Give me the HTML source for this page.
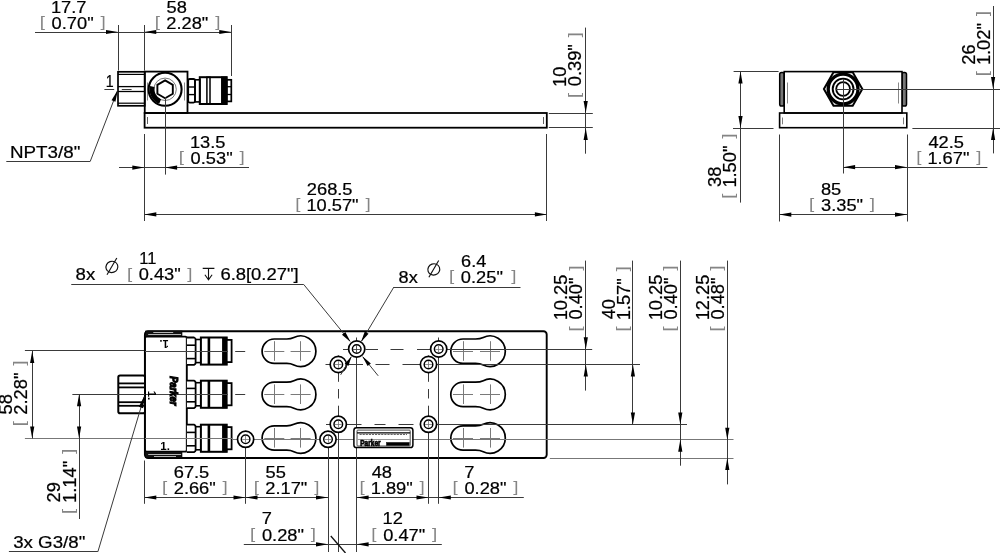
<!DOCTYPE html>
<html lang="en">
<head>
<meta charset="utf-8">
<title>Dimensional drawing</title>
<style>
html,body{margin:0;padding:0;background:#fff;}
body{width:1000px;height:553px;overflow:hidden;}
svg{display:block;font-family:"Liberation Sans",Arial,Helvetica,sans-serif;will-change:transform;}
</style>
</head>
<body>
<svg width="1000" height="553" viewBox="0 0 1000 553">
<rect x="0" y="0" width="1000" height="553" fill="#fff"/>
<rect x="144.60" y="113.00" width="402.20" height="14.70" stroke="#000" stroke-width="1.8" fill="none"/>
<line x1="147.50" y1="117.00" x2="147.50" y2="124.00" stroke="#333" stroke-width="0.8"/>
<line x1="543.50" y1="117.00" x2="543.50" y2="124.00" stroke="#333" stroke-width="0.8"/>
<rect x="144.75" y="71.60" width="42.75" height="41.40" stroke="#000" stroke-width="1.8" fill="none"/>
<line x1="147.50" y1="82.50" x2="147.50" y2="100.50" stroke="#555" stroke-width="0.7"/>
<line x1="184.50" y1="82.50" x2="184.50" y2="100.50" stroke="#555" stroke-width="0.7"/>
<rect x="118.00" y="71.80" width="26.75" height="34.00" stroke="#000" stroke-width="1.7" fill="none"/>
<line x1="118.00" y1="74.40" x2="144.70" y2="74.40" stroke="#000" stroke-width="1.2"/>
<line x1="118.00" y1="103.20" x2="144.70" y2="103.20" stroke="#000" stroke-width="1.2"/>
<line x1="118.00" y1="86.60" x2="144.70" y2="86.60" stroke="#000" stroke-width="1.3"/>
<line x1="118.00" y1="91.50" x2="144.70" y2="91.50" stroke="#000" stroke-width="1.3"/>
<line x1="121.80" y1="89.50" x2="131.60" y2="89.50" stroke="#3a3a3a" stroke-width="1.0"/>
<circle cx="165.10" cy="89.30" r="16.50" stroke="#000" stroke-width="2.1" fill="none"/>
<circle cx="165.10" cy="89.30" r="11.20" stroke="#555" stroke-width="0.8" fill="none"/>
<polygon points="165.10,80.40 172.81,84.85 172.81,93.75 165.10,98.20 157.39,93.75 157.39,84.85" fill="#fff" stroke="#000" stroke-width="1.9"/>
<path d="M160.16,101.54 A13.2,13.2 0 0 1 152.19,86.56" stroke="#000" stroke-width="4.8" fill="none" />
<rect x="188.20" y="79.00" width="6.80" height="23.60" stroke="#000" stroke-width="1.8" fill="none" rx="1.5" ry="1.5"/>
<line x1="188.40" y1="87.00" x2="195.00" y2="87.00" stroke="#000" stroke-width="1.4"/>
<line x1="188.40" y1="94.60" x2="195.00" y2="94.60" stroke="#000" stroke-width="1.4"/>
<rect x="195.00" y="79.80" width="4.80" height="22.10" stroke="#000" stroke-width="1.6" fill="none"/>
<rect x="199.80" y="77.20" width="26.80" height="26.80" stroke="#000" stroke-width="2.0" fill="none"/>
<rect x="206.90" y="77.20" width="3.10" height="26.80" stroke="#000" stroke-width="1.5" fill="none"/>
<rect x="221.80" y="77.20" width="4.80" height="26.80" stroke="#000" stroke-width="1.5" fill="#000"/>
<rect x="226.60" y="79.80" width="4.70" height="21.60" stroke="#000" stroke-width="1.7" fill="none"/>
<line x1="226.80" y1="86.70" x2="231.30" y2="86.70" stroke="#000" stroke-width="1.3"/>
<line x1="226.80" y1="94.50" x2="231.30" y2="94.50" stroke="#000" stroke-width="1.3"/>
<line x1="118.50" y1="25.00" x2="118.50" y2="70.50" stroke="#3a3a3a" stroke-width="1.0"/>
<line x1="144.50" y1="25.00" x2="144.50" y2="70.50" stroke="#3a3a3a" stroke-width="1.0"/>
<line x1="231.50" y1="25.00" x2="231.50" y2="76.00" stroke="#3a3a3a" stroke-width="1.0"/>
<line x1="35.00" y1="32.50" x2="231.25" y2="32.50" stroke="#3a3a3a" stroke-width="1.0"/>
<polygon points="118.00,32.00 106.00,34.10 106.00,29.90" fill="#000"/>
<polygon points="144.25,32.00 156.25,29.90 156.25,34.10" fill="#000"/>
<polygon points="231.25,32.00 219.25,34.10 219.25,29.90" fill="#000"/>
<text transform="translate(39.68,27.15) scale(1.3,1)" font-size="14.5" fill="#858585">[</text>
<text transform="translate(50.88,12.55) scale(1.0750,1)" font-size="17.0" fill="#000" stroke="#000" stroke-width="0.22">17.7</text>
<text transform="translate(51.61,28.75) scale(1.0750,1)" font-size="17.0" fill="#000" stroke="#000" stroke-width="0.22">0.70&quot;</text>
<text transform="translate(100.42,27.15) scale(1.3,1)" font-size="14.5" fill="#858585">]</text>
<text transform="translate(154.68,27.15) scale(1.3,1)" font-size="14.5" fill="#858585">[</text>
<text transform="translate(166.52,12.55) scale(1.0750,1)" font-size="17.0" fill="#000" stroke="#000" stroke-width="0.22">58</text>
<text transform="translate(166.34,28.75) scale(1.0750,1)" font-size="17.0" fill="#000" stroke="#000" stroke-width="0.22">2.28&quot;</text>
<text transform="translate(215.14,27.15) scale(1.3,1)" font-size="14.5" fill="#858585">]</text>
<text transform="translate(105.73,86.60) scale(0.8384,1)" font-size="17.0" fill="#000" stroke="#000" stroke-width="0.22">1</text>
<line x1="104.40" y1="89.50" x2="114.20" y2="89.50" stroke="#3a3a3a" stroke-width="1.0"/>
<line x1="6.30" y1="161.50" x2="90.30" y2="161.50" stroke="#3a3a3a" stroke-width="1.0"/>
<line x1="90.30" y1="161.20" x2="117.80" y2="89.90" stroke="#3a3a3a" stroke-width="1.0"/>
<polygon points="117.80,89.90 115.44,101.85 111.52,100.34" fill="#000"/>
<text transform="translate(9.99,157.70) scale(1.1067,1)" font-size="17.0" fill="#000" stroke="#000" stroke-width="0.22">NPT3/8&quot;</text>
<line x1="144.50" y1="134.00" x2="144.50" y2="221.00" stroke="#3a3a3a" stroke-width="1.0"/>
<line x1="546.50" y1="134.00" x2="546.50" y2="221.00" stroke="#3a3a3a" stroke-width="1.0"/>
<line x1="165.50" y1="97.00" x2="165.50" y2="174.60" stroke="#3a3a3a" stroke-width="1.0"/>
<line x1="119.00" y1="167.50" x2="249.00" y2="167.50" stroke="#3a3a3a" stroke-width="1.0"/>
<polygon points="144.30,167.60 132.30,169.70 132.30,165.50" fill="#000"/>
<polygon points="165.10,167.60 177.10,165.50 177.10,169.70" fill="#000"/>
<text transform="translate(178.68,161.90) scale(1.3,1)" font-size="14.5" fill="#858585">[</text>
<text transform="translate(189.88,147.90) scale(1.0750,1)" font-size="17.0" fill="#000" stroke="#000" stroke-width="0.22">13.5</text>
<text transform="translate(190.61,163.50) scale(1.0750,1)" font-size="17.0" fill="#000" stroke="#000" stroke-width="0.22">0.53&quot;</text>
<text transform="translate(239.42,161.90) scale(1.3,1)" font-size="14.5" fill="#858585">]</text>
<line x1="144.30" y1="214.50" x2="546.90" y2="214.50" stroke="#3a3a3a" stroke-width="1.0"/>
<polygon points="144.30,214.40 156.30,212.30 156.30,216.50" fill="#000"/>
<polygon points="546.90,214.40 534.90,216.50 534.90,212.30" fill="#000"/>
<text transform="translate(295.18,209.00) scale(1.3,1)" font-size="14.5" fill="#858585">[</text>
<text transform="translate(306.84,195.30) scale(1.0750,1)" font-size="17.0" fill="#000" stroke="#000" stroke-width="0.22">268.5</text>
<text transform="translate(306.38,210.60) scale(1.0750,1)" font-size="17.0" fill="#000" stroke="#000" stroke-width="0.22">10.57&quot;</text>
<text transform="translate(365.42,209.00) scale(1.3,1)" font-size="14.5" fill="#858585">]</text>
<line x1="548.80" y1="113.50" x2="592.80" y2="113.50" stroke="#3a3a3a" stroke-width="1.0"/>
<line x1="548.80" y1="127.50" x2="592.80" y2="127.50" stroke="#3a3a3a" stroke-width="1.0"/>
<line x1="585.50" y1="27.60" x2="585.50" y2="153.70" stroke="#3a3a3a" stroke-width="1.0"/>
<polygon points="585.70,113.00 583.60,101.00 587.80,101.00" fill="#000"/>
<polygon points="585.70,127.90 587.80,139.90 583.60,139.90" fill="#000"/>
<g transform="translate(581.40,96.80) rotate(-90) scale(1,1.075)">
<text transform="translate(-1.32,-1.60) scale(1.3,1)" font-size="14.5" fill="#858585">[</text>
<text transform="translate(9.88,-13.95) scale(1.0750,1)" font-size="17.0" fill="#000" stroke="#000" stroke-width="0.22">10</text>
<text transform="translate(10.61,0.00) scale(1.0750,1)" font-size="17.0" fill="#000" stroke="#000" stroke-width="0.22">0.39&quot;</text>
<text transform="translate(59.42,-1.60) scale(1.3,1)" font-size="14.5" fill="#858585">]</text>
</g>
<rect x="779.70" y="72.40" width="4.50" height="33.60" stroke="#000" stroke-width="1.5" fill="#777" rx="1.8" ry="1.8"/>
<rect x="902.00" y="72.40" width="4.50" height="33.60" stroke="#000" stroke-width="1.5" fill="#777" rx="1.8" ry="1.8"/>
<rect x="784.20" y="71.60" width="117.80" height="41.40" stroke="#000" stroke-width="1.6" fill="#fff"/>
<line x1="787.50" y1="82.50" x2="787.50" y2="103.50" stroke="#555" stroke-width="0.7"/>
<line x1="898.50" y1="82.50" x2="898.50" y2="103.50" stroke="#555" stroke-width="0.7"/>
<rect x="779.60" y="113.00" width="127.20" height="14.70" stroke="#000" stroke-width="1.6" fill="none"/>
<line x1="782.50" y1="117.50" x2="782.50" y2="124.30" stroke="#444" stroke-width="0.7"/>
<line x1="903.50" y1="117.50" x2="903.50" y2="124.30" stroke="#444" stroke-width="0.7"/>
<polygon points="862.30,89.00 852.70,105.63 833.50,105.63 823.90,89.00 833.50,72.37 852.70,72.37" fill="#fff" stroke="#000" stroke-width="2.0"/>
<circle cx="843.10" cy="89.00" r="14.90" stroke="#000" stroke-width="3.3" fill="none"/>
<circle cx="843.10" cy="89.00" r="10.40" stroke="#000" stroke-width="1.9" fill="none"/>
<circle cx="843.10" cy="89.00" r="6.90" stroke="#000" stroke-width="1.8" fill="none"/>
<line x1="836.00" y1="89.50" x2="1000.00" y2="89.50" stroke="#3a3a3a" stroke-width="1.0"/>
<line x1="843.50" y1="79.00" x2="843.50" y2="173.50" stroke="#3a3a3a" stroke-width="1.0"/>
<line x1="733.60" y1="71.50" x2="778.60" y2="71.50" stroke="#3a3a3a" stroke-width="1.0"/>
<line x1="733.00" y1="128.50" x2="773.50" y2="128.50" stroke="#3a3a3a" stroke-width="1.0"/>
<line x1="740.50" y1="71.40" x2="740.50" y2="202.60" stroke="#3a3a3a" stroke-width="1.0"/>
<polygon points="740.50,71.40 742.60,83.40 738.40,83.40" fill="#000"/>
<polygon points="740.50,128.00 738.40,116.00 742.60,116.00" fill="#000"/>
<g transform="translate(736.00,197.50) rotate(-90) scale(1,1.075)">
<text transform="translate(-1.32,-1.60) scale(1.3,1)" font-size="14.5" fill="#858585">[</text>
<text transform="translate(10.61,-13.95) scale(1.0750,1)" font-size="17.0" fill="#000" stroke="#000" stroke-width="0.22">38</text>
<text transform="translate(9.88,0.00) scale(1.0750,1)" font-size="17.0" fill="#000" stroke="#000" stroke-width="0.22">1.50&quot;</text>
<text transform="translate(58.69,-1.60) scale(1.3,1)" font-size="14.5" fill="#858585">]</text>
</g>
<line x1="912.40" y1="128.50" x2="1000.00" y2="128.50" stroke="#3a3a3a" stroke-width="1.0"/>
<line x1="993.50" y1="6.00" x2="993.50" y2="153.40" stroke="#3a3a3a" stroke-width="1.0"/>
<polygon points="993.10,89.00 991.00,77.00 995.20,77.00" fill="#000"/>
<polygon points="993.10,128.00 995.20,140.00 991.00,140.00" fill="#000"/>
<g transform="translate(989.60,75.00) rotate(-90) scale(1,1.075)">
<text transform="translate(-1.32,-1.60) scale(1.3,1)" font-size="14.5" fill="#858585">[</text>
<text transform="translate(10.34,-13.95) scale(1.0750,1)" font-size="17.0" fill="#000" stroke="#000" stroke-width="0.22">26</text>
<text transform="translate(9.88,0.00) scale(1.0750,1)" font-size="17.0" fill="#000" stroke="#000" stroke-width="0.22">1.02&quot;</text>
<text transform="translate(58.69,-1.60) scale(1.3,1)" font-size="14.5" fill="#858585">]</text>
</g>
<line x1="779.50" y1="134.50" x2="779.50" y2="221.50" stroke="#3a3a3a" stroke-width="1.0"/>
<line x1="907.50" y1="134.50" x2="907.50" y2="221.50" stroke="#3a3a3a" stroke-width="1.0"/>
<line x1="843.10" y1="167.50" x2="987.40" y2="167.50" stroke="#3a3a3a" stroke-width="1.0"/>
<polygon points="843.10,167.20 855.10,165.10 855.10,169.30" fill="#000"/>
<polygon points="907.00,167.20 895.00,169.30 895.00,165.10" fill="#000"/>
<text transform="translate(916.18,162.40) scale(1.3,1)" font-size="14.5" fill="#858585">[</text>
<text transform="translate(928.38,148.00) scale(1.0750,1)" font-size="17.0" fill="#000" stroke="#000" stroke-width="0.22">42.5</text>
<text transform="translate(927.38,164.00) scale(1.0750,1)" font-size="17.0" fill="#000" stroke="#000" stroke-width="0.22">1.67&quot;</text>
<text transform="translate(976.19,162.40) scale(1.3,1)" font-size="14.5" fill="#858585">]</text>
<line x1="779.30" y1="214.50" x2="907.00" y2="214.50" stroke="#3a3a3a" stroke-width="1.0"/>
<polygon points="779.30,214.60 791.30,212.50 791.30,216.70" fill="#000"/>
<polygon points="907.00,214.60 895.00,216.70 895.00,212.50" fill="#000"/>
<text transform="translate(809.08,209.40) scale(1.3,1)" font-size="14.5" fill="#858585">[</text>
<text transform="translate(820.92,195.40) scale(1.0750,1)" font-size="17.0" fill="#000" stroke="#000" stroke-width="0.22">85</text>
<text transform="translate(821.01,211.00) scale(1.0750,1)" font-size="17.0" fill="#000" stroke="#000" stroke-width="0.22">3.35&quot;</text>
<text transform="translate(869.82,209.40) scale(1.3,1)" font-size="14.5" fill="#858585">]</text>
<rect x="144.90" y="331.20" width="401.80" height="126.80" stroke="#000" stroke-width="1.9" fill="none" rx="3.2" ry="3.2"/>
<path d="M274.30,339.00 L286.80,339.00 C290.00,339.00 291.56,338.59 293.89,337.45 A15.3,15.3 0 1 1 293.89,364.95 C291.56,363.81 290.00,363.40 286.80,363.40 L274.30,363.40 A12.2,12.2 0 0 1 274.30,339.00 Z" stroke="#000" stroke-width="1.7" fill="#fff" />
<line x1="264.30" y1="351.50" x2="284.30" y2="351.50" stroke="#7a7a7a" stroke-width="1.0"/>
<line x1="274.50" y1="341.20" x2="274.50" y2="360.80" stroke="#7a7a7a" stroke-width="1.0"/>
<line x1="290.60" y1="351.50" x2="310.60" y2="351.50" stroke="#7a7a7a" stroke-width="1.0"/>
<line x1="300.50" y1="341.20" x2="300.50" y2="360.80" stroke="#7a7a7a" stroke-width="1.0"/>
<path d="M463.00,339.00 L475.50,339.00 C478.70,339.00 480.96,338.59 483.29,337.45 A15.3,15.3 0 1 1 483.29,364.95 C480.96,363.81 478.70,363.40 475.50,363.40 L463.00,363.40 A12.2,12.2 0 0 1 463.00,339.00 Z" stroke="#000" stroke-width="1.7" fill="#fff" />
<line x1="453.00" y1="351.50" x2="473.00" y2="351.50" stroke="#7a7a7a" stroke-width="1.0"/>
<line x1="463.50" y1="341.20" x2="463.50" y2="360.80" stroke="#7a7a7a" stroke-width="1.0"/>
<line x1="480.00" y1="351.50" x2="500.00" y2="351.50" stroke="#7a7a7a" stroke-width="1.0"/>
<line x1="490.50" y1="341.20" x2="490.50" y2="360.80" stroke="#7a7a7a" stroke-width="1.0"/>
<path d="M274.30,382.20 L286.80,382.20 C290.00,382.20 291.56,381.79 293.89,380.65 A15.3,15.3 0 1 1 293.89,408.15 C291.56,407.01 290.00,406.60 286.80,406.60 L274.30,406.60 A12.2,12.2 0 0 1 274.30,382.20 Z" stroke="#000" stroke-width="1.7" fill="#fff" />
<line x1="264.30" y1="394.50" x2="284.30" y2="394.50" stroke="#7a7a7a" stroke-width="1.0"/>
<line x1="274.50" y1="384.40" x2="274.50" y2="404.00" stroke="#7a7a7a" stroke-width="1.0"/>
<line x1="290.60" y1="394.50" x2="310.60" y2="394.50" stroke="#7a7a7a" stroke-width="1.0"/>
<line x1="300.50" y1="384.40" x2="300.50" y2="404.00" stroke="#7a7a7a" stroke-width="1.0"/>
<path d="M463.00,382.20 L475.50,382.20 C478.70,382.20 480.96,381.79 483.29,380.65 A15.3,15.3 0 1 1 483.29,408.15 C480.96,407.01 478.70,406.60 475.50,406.60 L463.00,406.60 A12.2,12.2 0 0 1 463.00,382.20 Z" stroke="#000" stroke-width="1.7" fill="#fff" />
<line x1="453.00" y1="394.50" x2="473.00" y2="394.50" stroke="#7a7a7a" stroke-width="1.0"/>
<line x1="463.50" y1="384.40" x2="463.50" y2="404.00" stroke="#7a7a7a" stroke-width="1.0"/>
<line x1="480.00" y1="394.50" x2="500.00" y2="394.50" stroke="#7a7a7a" stroke-width="1.0"/>
<line x1="490.50" y1="384.40" x2="490.50" y2="404.00" stroke="#7a7a7a" stroke-width="1.0"/>
<path d="M274.30,425.80 L286.80,425.80 C290.00,425.80 291.56,425.39 293.89,424.25 A15.3,15.3 0 1 1 293.89,451.75 C291.56,450.61 290.00,450.20 286.80,450.20 L274.30,450.20 A12.2,12.2 0 0 1 274.30,425.80 Z" stroke="#000" stroke-width="1.7" fill="#fff" />
<line x1="264.30" y1="438.50" x2="284.30" y2="438.50" stroke="#7a7a7a" stroke-width="1.0"/>
<line x1="274.50" y1="428.00" x2="274.50" y2="447.60" stroke="#7a7a7a" stroke-width="1.0"/>
<line x1="290.60" y1="438.50" x2="310.60" y2="438.50" stroke="#7a7a7a" stroke-width="1.0"/>
<line x1="300.50" y1="428.00" x2="300.50" y2="447.60" stroke="#7a7a7a" stroke-width="1.0"/>
<path d="M463.00,425.80 L475.50,425.80 C478.70,425.80 480.96,425.39 483.29,424.25 A15.3,15.3 0 1 1 483.29,451.75 C480.96,450.61 478.70,450.20 475.50,450.20 L463.00,450.20 A12.2,12.2 0 0 1 463.00,425.80 Z" stroke="#000" stroke-width="1.7" fill="#fff" />
<line x1="453.00" y1="438.50" x2="473.00" y2="438.50" stroke="#7a7a7a" stroke-width="1.0"/>
<line x1="463.50" y1="428.00" x2="463.50" y2="447.60" stroke="#7a7a7a" stroke-width="1.0"/>
<line x1="480.00" y1="438.50" x2="500.00" y2="438.50" stroke="#7a7a7a" stroke-width="1.0"/>
<line x1="490.50" y1="428.00" x2="490.50" y2="447.60" stroke="#7a7a7a" stroke-width="1.0"/>
<line x1="24.90" y1="350.50" x2="203.00" y2="350.50" stroke="#3a3a3a" stroke-width="1.0"/>
<line x1="235.20" y1="351.50" x2="245.20" y2="351.50" stroke="#3a3a3a" stroke-width="1.0"/>
<line x1="72.60" y1="394.50" x2="203.00" y2="394.50" stroke="#3a3a3a" stroke-width="1.0"/>
<line x1="235.20" y1="394.50" x2="245.20" y2="394.50" stroke="#3a3a3a" stroke-width="1.0"/>
<line x1="24.90" y1="438.50" x2="233.00" y2="438.50" stroke="#777" stroke-width="1.0"/>
<rect x="145.00" y="336.60" width="41.80" height="115.00" stroke="#000" stroke-width="1.9" fill="#fff" rx="1.6" ry="1.6"/>
<rect x="145.60" y="331.00" width="36.40" height="5.60" stroke="#000" stroke-width="0.6" fill="#111"/>
<line x1="153.30" y1="332.50" x2="173.20" y2="332.50" stroke="#b5b5b5" stroke-width="1.0"/>
<line x1="148.20" y1="334.50" x2="181.10" y2="334.50" stroke="#b5b5b5" stroke-width="1.0"/>
<rect x="145.60" y="451.60" width="36.40" height="6.00" stroke="#000" stroke-width="0.6" fill="#111"/>
<line x1="148.20" y1="454.50" x2="181.10" y2="454.50" stroke="#b5b5b5" stroke-width="1.0"/>
<line x1="154.00" y1="456.50" x2="176.00" y2="456.50" stroke="#b5b5b5" stroke-width="1.0"/>
<path d="M186.9,337.5 L194.0,337.5 Q195.7,338.2 195.7,339.7 L195.7,362.7 Q195.7,364.2 194.0,364.9 L186.9,364.9" stroke="#000" stroke-width="1.8" fill="#fff" />
<line x1="186.90" y1="345.20" x2="195.70" y2="345.20" stroke="#000" stroke-width="1.6"/>
<line x1="186.90" y1="358.60" x2="195.70" y2="358.60" stroke="#000" stroke-width="1.6"/>
<rect x="195.70" y="339.50" width="5.20" height="23.10" stroke="#000" stroke-width="1.6" fill="#fff"/>
<rect x="200.90" y="337.50" width="25.80" height="27.10" stroke="#000" stroke-width="2.0" fill="#fff"/>
<line x1="208.90" y1="337.50" x2="208.90" y2="364.60" stroke="#000" stroke-width="2.6"/>
<rect x="222.40" y="337.50" width="4.30" height="27.10" stroke="#000" stroke-width="0.8" fill="#000"/>
<rect x="226.70" y="339.90" width="4.90" height="22.20" stroke="#000" stroke-width="1.8" fill="#fff"/>
<path d="M186.9,380.7 L194.0,380.7 Q195.7,381.4 195.7,382.9 L195.7,405.9 Q195.7,407.4 194.0,408.09999999999997 L186.9,408.09999999999997" stroke="#000" stroke-width="1.8" fill="#fff" />
<line x1="186.90" y1="388.40" x2="195.70" y2="388.40" stroke="#000" stroke-width="1.6"/>
<line x1="186.90" y1="401.80" x2="195.70" y2="401.80" stroke="#000" stroke-width="1.6"/>
<rect x="195.70" y="382.70" width="5.20" height="23.10" stroke="#000" stroke-width="1.6" fill="#fff"/>
<rect x="200.90" y="380.70" width="25.80" height="27.10" stroke="#000" stroke-width="2.0" fill="#fff"/>
<line x1="208.90" y1="380.70" x2="208.90" y2="407.80" stroke="#000" stroke-width="2.6"/>
<rect x="222.40" y="380.70" width="4.30" height="27.10" stroke="#000" stroke-width="0.8" fill="#000"/>
<rect x="226.70" y="383.10" width="4.90" height="22.20" stroke="#000" stroke-width="1.8" fill="#fff"/>
<path d="M186.9,424.7 L194.0,424.7 Q195.7,425.4 195.7,426.9 L195.7,449.9 Q195.7,451.4 194.0,452.09999999999997 L186.9,452.09999999999997" stroke="#000" stroke-width="1.8" fill="#fff" />
<line x1="186.90" y1="432.40" x2="195.70" y2="432.40" stroke="#000" stroke-width="1.6"/>
<line x1="186.90" y1="445.80" x2="195.70" y2="445.80" stroke="#000" stroke-width="1.6"/>
<rect x="195.70" y="426.70" width="5.20" height="23.10" stroke="#000" stroke-width="1.6" fill="#fff"/>
<rect x="200.90" y="424.70" width="25.80" height="27.10" stroke="#000" stroke-width="2.0" fill="#fff"/>
<line x1="208.90" y1="424.70" x2="208.90" y2="451.80" stroke="#000" stroke-width="2.6"/>
<rect x="222.40" y="424.70" width="4.30" height="27.10" stroke="#000" stroke-width="0.8" fill="#000"/>
<rect x="226.70" y="427.10" width="4.90" height="22.20" stroke="#000" stroke-width="1.8" fill="#fff"/>
<line x1="145.00" y1="351.50" x2="228.00" y2="351.50" stroke="#444" stroke-width="1.0"/>
<line x1="145.00" y1="394.50" x2="228.00" y2="394.50" stroke="#444" stroke-width="1.0"/>
<line x1="145.00" y1="438.50" x2="233.00" y2="438.50" stroke="#777" stroke-width="1.0"/>
<rect x="118.30" y="375.50" width="26.70" height="37.70" stroke="#000" stroke-width="2.0" fill="#fff" rx="1.8" ry="1.8"/>
<line x1="118.60" y1="383.40" x2="145.00" y2="383.40" stroke="#000" stroke-width="1.8"/>
<line x1="118.60" y1="387.40" x2="145.00" y2="387.40" stroke="#000" stroke-width="1.8"/>
<line x1="118.60" y1="402.20" x2="145.00" y2="402.20" stroke="#000" stroke-width="1.8"/>
<line x1="118.60" y1="405.80" x2="145.00" y2="405.80" stroke="#000" stroke-width="1.8"/>
<line x1="72.60" y1="394.50" x2="145.00" y2="394.50" stroke="#3a3a3a" stroke-width="1.0"/>
<text transform="translate(168.7,339.9) rotate(180)" font-size="11" font-weight="bold" fill="#000">1.</text>
<text x="160.3" y="449.6" font-size="11.5" font-weight="bold" fill="#000">1.</text>
<text transform="translate(148.1,390.7) rotate(90)" font-size="11.5" font-weight="bold" fill="#000">1.</text>
<text transform="translate(170.0,390.8) rotate(90)" font-size="10.5" font-weight="bold" font-style="italic" text-anchor="middle" textLength="29" lengthAdjust="spacingAndGlyphs" stroke="#000" stroke-width="1.1" fill="#000">Parker</text>
<line x1="343.00" y1="349.50" x2="348.50" y2="349.50" stroke="#3a3a3a" stroke-width="1.0"/>
<line x1="365.50" y1="349.50" x2="378.00" y2="349.50" stroke="#3a3a3a" stroke-width="1.0"/>
<line x1="390.50" y1="349.50" x2="403.50" y2="349.50" stroke="#3a3a3a" stroke-width="1.0"/>
<line x1="417.00" y1="349.50" x2="430.00" y2="349.50" stroke="#3a3a3a" stroke-width="1.0"/>
<line x1="325.50" y1="364.50" x2="331.00" y2="364.50" stroke="#3a3a3a" stroke-width="1.0"/>
<line x1="346.50" y1="364.50" x2="363.00" y2="364.50" stroke="#3a3a3a" stroke-width="1.0"/>
<line x1="375.50" y1="364.50" x2="389.50" y2="364.50" stroke="#3a3a3a" stroke-width="1.0"/>
<line x1="402.50" y1="364.50" x2="420.00" y2="364.50" stroke="#3a3a3a" stroke-width="1.0"/>
<line x1="326.00" y1="424.50" x2="331.00" y2="424.50" stroke="#3a3a3a" stroke-width="1.0"/>
<line x1="346.50" y1="424.50" x2="361.50" y2="424.50" stroke="#3a3a3a" stroke-width="1.0"/>
<line x1="374.50" y1="424.50" x2="385.50" y2="424.50" stroke="#3a3a3a" stroke-width="1.0"/>
<line x1="398.50" y1="424.50" x2="413.50" y2="424.50" stroke="#3a3a3a" stroke-width="1.0"/>
<line x1="338.50" y1="355.50" x2="338.50" y2="358.00" stroke="#3a3a3a" stroke-width="1.0"/>
<line x1="338.50" y1="371.50" x2="338.50" y2="381.80" stroke="#3a3a3a" stroke-width="1.0"/>
<line x1="338.50" y1="389.00" x2="338.50" y2="398.50" stroke="#3a3a3a" stroke-width="1.0"/>
<line x1="338.50" y1="405.70" x2="338.50" y2="417.00" stroke="#3a3a3a" stroke-width="1.0"/>
<line x1="428.50" y1="355.50" x2="428.50" y2="358.00" stroke="#3a3a3a" stroke-width="1.0"/>
<line x1="428.50" y1="371.50" x2="428.50" y2="381.80" stroke="#3a3a3a" stroke-width="1.0"/>
<line x1="428.50" y1="389.00" x2="428.50" y2="398.50" stroke="#3a3a3a" stroke-width="1.0"/>
<line x1="428.50" y1="405.70" x2="428.50" y2="417.00" stroke="#3a3a3a" stroke-width="1.0"/>
<line x1="356.50" y1="337.50" x2="356.50" y2="341.00" stroke="#3a3a3a" stroke-width="1.0"/>
<line x1="438.50" y1="337.50" x2="438.50" y2="341.00" stroke="#3a3a3a" stroke-width="1.0"/>
<line x1="447.00" y1="349.50" x2="450.50" y2="349.50" stroke="#3a3a3a" stroke-width="1.0"/>
<line x1="438.80" y1="349.50" x2="592.20" y2="349.50" stroke="#3a3a3a" stroke-width="1.0"/>
<line x1="428.50" y1="364.50" x2="640.00" y2="364.50" stroke="#3a3a3a" stroke-width="1.0"/>
<line x1="428.50" y1="424.50" x2="687.00" y2="424.50" stroke="#3a3a3a" stroke-width="1.0"/>
<line x1="233.00" y1="439.50" x2="733.50" y2="439.50" stroke="#777" stroke-width="1.0"/>
<line x1="549.80" y1="458.50" x2="733.50" y2="458.50" stroke="#777" stroke-width="1.0"/>
<line x1="245.50" y1="439.30" x2="245.50" y2="503.80" stroke="#3a3a3a" stroke-width="1.0"/>
<line x1="328.50" y1="439.30" x2="328.50" y2="552.00" stroke="#3a3a3a" stroke-width="1.0"/>
<line x1="338.50" y1="424.40" x2="338.50" y2="552.00" stroke="#3a3a3a" stroke-width="1.0"/>
<line x1="356.50" y1="349.00" x2="356.50" y2="552.00" stroke="#3a3a3a" stroke-width="1.0"/>
<line x1="428.50" y1="424.40" x2="428.50" y2="503.80" stroke="#3a3a3a" stroke-width="1.0"/>
<line x1="438.50" y1="349.00" x2="438.50" y2="503.80" stroke="#3a3a3a" stroke-width="1.0"/>
<line x1="144.50" y1="460.50" x2="144.50" y2="503.80" stroke="#3a3a3a" stroke-width="1.0"/>
<circle cx="356.70" cy="349.00" r="8.10" stroke="#000" stroke-width="1.7" fill="#fff"/>
<circle cx="356.70" cy="349.00" r="4.30" stroke="#000" stroke-width="1.45" fill="none"/>
<line x1="353.30" y1="349.50" x2="360.10" y2="349.50" stroke="#777" stroke-width="0.8"/>
<line x1="356.50" y1="345.60" x2="356.50" y2="352.40" stroke="#777" stroke-width="0.8"/>
<circle cx="338.30" cy="364.50" r="8.10" stroke="#000" stroke-width="1.7" fill="#fff"/>
<circle cx="338.30" cy="364.50" r="4.30" stroke="#000" stroke-width="1.45" fill="none"/>
<line x1="334.90" y1="364.50" x2="341.70" y2="364.50" stroke="#777" stroke-width="0.8"/>
<line x1="338.50" y1="361.10" x2="338.50" y2="367.90" stroke="#777" stroke-width="0.8"/>
<circle cx="438.70" cy="349.00" r="8.10" stroke="#000" stroke-width="1.7" fill="#fff"/>
<circle cx="438.70" cy="349.00" r="4.30" stroke="#000" stroke-width="1.45" fill="none"/>
<line x1="435.30" y1="349.50" x2="442.10" y2="349.50" stroke="#777" stroke-width="0.8"/>
<line x1="438.50" y1="345.60" x2="438.50" y2="352.40" stroke="#777" stroke-width="0.8"/>
<circle cx="428.50" cy="364.50" r="8.10" stroke="#000" stroke-width="1.7" fill="#fff"/>
<circle cx="428.50" cy="364.50" r="4.30" stroke="#000" stroke-width="1.45" fill="none"/>
<line x1="425.10" y1="364.50" x2="431.90" y2="364.50" stroke="#777" stroke-width="0.8"/>
<line x1="428.50" y1="361.10" x2="428.50" y2="367.90" stroke="#777" stroke-width="0.8"/>
<circle cx="338.30" cy="424.30" r="8.10" stroke="#000" stroke-width="1.7" fill="#fff"/>
<circle cx="338.30" cy="424.30" r="4.30" stroke="#000" stroke-width="1.45" fill="none"/>
<line x1="334.90" y1="424.50" x2="341.70" y2="424.50" stroke="#777" stroke-width="0.8"/>
<line x1="338.50" y1="420.90" x2="338.50" y2="427.70" stroke="#777" stroke-width="0.8"/>
<circle cx="328.00" cy="439.30" r="8.10" stroke="#000" stroke-width="1.7" fill="#fff"/>
<circle cx="328.00" cy="439.30" r="4.30" stroke="#000" stroke-width="1.45" fill="none"/>
<line x1="324.60" y1="439.50" x2="331.40" y2="439.50" stroke="#777" stroke-width="0.8"/>
<line x1="328.50" y1="435.90" x2="328.50" y2="442.70" stroke="#777" stroke-width="0.8"/>
<circle cx="428.50" cy="424.30" r="8.10" stroke="#000" stroke-width="1.7" fill="#fff"/>
<circle cx="428.50" cy="424.30" r="4.30" stroke="#000" stroke-width="1.45" fill="none"/>
<line x1="425.10" y1="424.50" x2="431.90" y2="424.50" stroke="#777" stroke-width="0.8"/>
<line x1="428.50" y1="420.90" x2="428.50" y2="427.70" stroke="#777" stroke-width="0.8"/>
<circle cx="245.60" cy="439.30" r="8.10" stroke="#000" stroke-width="1.7" fill="#fff"/>
<circle cx="245.60" cy="439.30" r="4.30" stroke="#000" stroke-width="1.45" fill="none"/>
<line x1="242.20" y1="439.50" x2="249.00" y2="439.50" stroke="#777" stroke-width="0.8"/>
<line x1="245.50" y1="435.90" x2="245.50" y2="442.70" stroke="#777" stroke-width="0.8"/>
<line x1="352.60" y1="349.50" x2="360.80" y2="349.50" stroke="#333" stroke-width="0.6"/>
<line x1="356.50" y1="345.00" x2="356.50" y2="353.00" stroke="#333" stroke-width="0.6"/>
<rect x="353.90" y="427.80" width="59.00" height="19.80" stroke="#000" stroke-width="1.5" fill="#fff" rx="2.6" ry="2.6"/>
<rect x="357.00" y="430.10" width="53.20" height="15.90" stroke="#222" stroke-width="0.8" fill="none" rx="0.8" ry="0.8"/>
<line x1="357.50" y1="439.50" x2="409.80" y2="439.50" stroke="#999" stroke-width="1.0"/>
<line x1="357.00" y1="432.90" x2="410.20" y2="432.90" stroke="#000" stroke-width="1.4"/>
<line x1="359.50" y1="434.50" x2="407.00" y2="434.50" stroke="#666" stroke-width="1.0" stroke-dasharray="2.2 0.9"/>
<text x="360.2" y="445.5" font-size="8.6" font-weight="bold" textLength="20.4" lengthAdjust="spacingAndGlyphs" stroke="#000" stroke-width="0.7" fill="#000">Parker</text>
<rect x="386.40" y="442.40" width="22.80" height="3.10" stroke="#000" stroke-width="0.4" fill="#000"/>
<line x1="71.25" y1="284.50" x2="303.75" y2="284.50" stroke="#3a3a3a" stroke-width="1.0"/>
<line x1="303.75" y1="284.50" x2="349.70" y2="340.90" stroke="#3a3a3a" stroke-width="1.0"/>
<polygon points="350.60,342.00 341.94,334.87 345.35,332.09" fill="#000"/>
<line x1="393.90" y1="287.50" x2="520.50" y2="287.50" stroke="#3a3a3a" stroke-width="1.0"/>
<line x1="393.90" y1="287.00" x2="361.60" y2="341.00" stroke="#3a3a3a" stroke-width="1.0"/>
<polygon points="361.00,342.00 364.76,331.43 368.53,333.69" fill="#000"/>
<line x1="340.70" y1="374.80" x2="351.20" y2="356.80" stroke="#3a3a3a" stroke-width="1.0"/>
<polygon points="351.60,356.20 348.38,365.90 344.75,363.78" fill="#000"/>
<line x1="378.20" y1="375.80" x2="362.80" y2="356.80" stroke="#3a3a3a" stroke-width="1.0"/>
<polygon points="362.30,356.20 370.86,363.42 367.59,366.07" fill="#000"/>
<text transform="translate(75.56,280.30) scale(1.0945,1)" font-size="17.0" fill="#000" stroke="#000" stroke-width="0.22">8x</text>
<ellipse cx="111.9" cy="266.9" rx="6.0" ry="5.6" transform="rotate(-20 111.9 266.9)" fill="none" stroke="#111" stroke-width="1.15"/>
<line x1="107.00" y1="274.70" x2="116.80" y2="258.00" stroke="#111" stroke-width="1.15"/>
<text transform="translate(139.26,264.30) scale(0.9707,1)" font-size="17.0" fill="#000" stroke="#000" stroke-width="0.22">11</text>
<text transform="translate(126.88,278.90) scale(1.3,1)" font-size="14.5" fill="#858585">[</text>
<text transform="translate(138.66,280.40) scale(1.0750,1)" font-size="17.0" fill="#000" stroke="#000" stroke-width="0.22">0.43&quot;</text>
<text transform="translate(187.21,278.90) scale(1.3,1)" font-size="14.5" fill="#858585">]</text>
<path d="M202.7,268.4 L214.4,268.4 M208.5,268.4 L208.5,279.6 M204.9,274.7 L208.5,279.9 L212.1,274.7" stroke="#111" stroke-width="1.1" fill="none" />
<text transform="translate(220.38,280.30) scale(1.0853,1)" font-size="17.0" fill="#000" stroke="#000" stroke-width="0.22">6.8[0.27&quot;]</text>
<text transform="translate(398.58,282.60) scale(1.0653,1)" font-size="17.0" fill="#000" stroke="#000" stroke-width="0.22">8x</text>
<ellipse cx="433.8" cy="269.4" rx="6.0" ry="5.6" transform="rotate(-20 433.8 269.4)" fill="none" stroke="#111" stroke-width="1.15"/>
<line x1="428.90" y1="277.20" x2="438.70" y2="260.50" stroke="#111" stroke-width="1.15"/>
<text transform="translate(461.10,266.80) scale(1.0646,1)" font-size="17.0" fill="#000" stroke="#000" stroke-width="0.22">6.4</text>
<text transform="translate(448.88,281.30) scale(1.3,1)" font-size="14.5" fill="#858585">[</text>
<text transform="translate(460.86,282.90) scale(1.0750,1)" font-size="17.0" fill="#000" stroke="#000" stroke-width="0.22">0.25&quot;</text>
<text transform="translate(511.31,281.30) scale(1.3,1)" font-size="14.5" fill="#858585">]</text>
<line x1="585.50" y1="260.60" x2="585.50" y2="390.60" stroke="#3a3a3a" stroke-width="1.0"/>
<line x1="632.50" y1="260.60" x2="632.50" y2="424.50" stroke="#3a3a3a" stroke-width="1.0"/>
<line x1="680.50" y1="260.60" x2="680.50" y2="465.70" stroke="#3a3a3a" stroke-width="1.0"/>
<line x1="727.50" y1="260.60" x2="727.50" y2="484.40" stroke="#3a3a3a" stroke-width="1.0"/>
<polygon points="585.80,349.20 583.70,337.20 587.90,337.20" fill="#000"/>
<polygon points="585.80,364.60 587.90,376.60 583.70,376.60" fill="#000"/>
<polygon points="632.90,364.60 635.00,376.60 630.80,376.60" fill="#000"/>
<polygon points="632.90,424.50 630.80,412.50 635.00,412.50" fill="#000"/>
<polygon points="680.30,424.50 678.20,412.50 682.40,412.50" fill="#000"/>
<polygon points="680.30,439.70 682.40,451.70 678.20,451.70" fill="#000"/>
<polygon points="727.30,439.70 725.20,427.70 729.40,427.70" fill="#000"/>
<polygon points="727.30,458.10 729.40,470.10 725.20,470.10" fill="#000"/>
<g transform="translate(582.40,330.20) rotate(-90) scale(1,1.075)">
<text transform="translate(-1.32,-1.60) scale(1.3,1)" font-size="14.5" fill="#858585">[</text>
<text transform="translate(9.88,-13.95) scale(1.0750,1)" font-size="17.0" fill="#000" stroke="#000" stroke-width="0.22">10.25</text>
<text transform="translate(10.61,0.00) scale(1.0750,1)" font-size="17.0" fill="#000" stroke="#000" stroke-width="0.22">0.40&quot;</text>
<text transform="translate(59.42,-1.60) scale(1.3,1)" font-size="14.5" fill="#858585">]</text>
</g>
<g transform="translate(629.60,330.20) rotate(-90) scale(1,1.075)">
<text transform="translate(-1.32,-1.60) scale(1.3,1)" font-size="14.5" fill="#858585">[</text>
<text transform="translate(10.88,-13.95) scale(1.0750,1)" font-size="17.0" fill="#000" stroke="#000" stroke-width="0.22">40</text>
<text transform="translate(9.88,0.00) scale(1.0750,1)" font-size="17.0" fill="#000" stroke="#000" stroke-width="0.22">1.57&quot;</text>
<text transform="translate(58.69,-1.60) scale(1.3,1)" font-size="14.5" fill="#858585">]</text>
</g>
<g transform="translate(676.60,330.20) rotate(-90) scale(1,1.075)">
<text transform="translate(-1.32,-1.60) scale(1.3,1)" font-size="14.5" fill="#858585">[</text>
<text transform="translate(9.88,-13.95) scale(1.0750,1)" font-size="17.0" fill="#000" stroke="#000" stroke-width="0.22">10.25</text>
<text transform="translate(10.61,0.00) scale(1.0750,1)" font-size="17.0" fill="#000" stroke="#000" stroke-width="0.22">0.40&quot;</text>
<text transform="translate(59.42,-1.60) scale(1.3,1)" font-size="14.5" fill="#858585">]</text>
</g>
<g transform="translate(723.90,330.20) rotate(-90) scale(1,1.075)">
<text transform="translate(-1.32,-1.60) scale(1.3,1)" font-size="14.5" fill="#858585">[</text>
<text transform="translate(9.88,-13.95) scale(1.0750,1)" font-size="17.0" fill="#000" stroke="#000" stroke-width="0.22">12.25</text>
<text transform="translate(10.61,0.00) scale(1.0750,1)" font-size="17.0" fill="#000" stroke="#000" stroke-width="0.22">0.48&quot;</text>
<text transform="translate(59.42,-1.60) scale(1.3,1)" font-size="14.5" fill="#858585">]</text>
</g>
<line x1="144.30" y1="497.50" x2="328.00" y2="497.50" stroke="#3a3a3a" stroke-width="1.0"/>
<polygon points="144.30,497.50 156.30,495.40 156.30,499.60" fill="#000"/>
<polygon points="245.50,497.50 233.50,499.60 233.50,495.40" fill="#000"/>
<polygon points="245.50,497.50 257.50,495.40 257.50,499.60" fill="#000"/>
<polygon points="328.00,497.50 316.00,499.60 316.00,495.40" fill="#000"/>
<text transform="translate(162.08,492.20) scale(1.3,1)" font-size="14.5" fill="#858585">[</text>
<text transform="translate(173.74,477.60) scale(1.0750,1)" font-size="17.0" fill="#000" stroke="#000" stroke-width="0.22">67.5</text>
<text transform="translate(173.74,493.80) scale(1.0750,1)" font-size="17.0" fill="#000" stroke="#000" stroke-width="0.22">2.66&quot;</text>
<text transform="translate(222.54,492.20) scale(1.3,1)" font-size="14.5" fill="#858585">]</text>
<text transform="translate(253.68,492.20) scale(1.3,1)" font-size="14.5" fill="#858585">[</text>
<text transform="translate(265.52,477.60) scale(1.0750,1)" font-size="17.0" fill="#000" stroke="#000" stroke-width="0.22">55</text>
<text transform="translate(265.34,493.80) scale(1.0750,1)" font-size="17.0" fill="#000" stroke="#000" stroke-width="0.22">2.17&quot;</text>
<text transform="translate(314.14,492.20) scale(1.3,1)" font-size="14.5" fill="#858585">]</text>
<line x1="356.60" y1="497.50" x2="523.80" y2="497.50" stroke="#3a3a3a" stroke-width="1.0"/>
<polygon points="356.60,497.50 368.60,495.40 368.60,499.60" fill="#000"/>
<polygon points="428.50,497.50 416.50,499.60 416.50,495.40" fill="#000"/>
<polygon points="438.80,497.50 450.80,495.40 450.80,499.60" fill="#000"/>
<text transform="translate(359.48,492.20) scale(1.3,1)" font-size="14.5" fill="#858585">[</text>
<text transform="translate(371.68,477.60) scale(1.0750,1)" font-size="17.0" fill="#000" stroke="#000" stroke-width="0.22">48</text>
<text transform="translate(370.68,493.80) scale(1.0750,1)" font-size="17.0" fill="#000" stroke="#000" stroke-width="0.22">1.89&quot;</text>
<text transform="translate(419.49,492.20) scale(1.3,1)" font-size="14.5" fill="#858585">]</text>
<text transform="translate(452.48,492.20) scale(1.3,1)" font-size="14.5" fill="#858585">[</text>
<text transform="translate(464.14,477.60) scale(1.0750,1)" font-size="17.0" fill="#000" stroke="#000" stroke-width="0.22">7</text>
<text transform="translate(464.41,493.80) scale(1.0750,1)" font-size="17.0" fill="#000" stroke="#000" stroke-width="0.22">0.28&quot;</text>
<text transform="translate(513.22,492.20) scale(1.3,1)" font-size="14.5" fill="#858585">]</text>
<line x1="243.80" y1="544.50" x2="441.80" y2="544.50" stroke="#3a3a3a" stroke-width="1.0"/>
<polygon points="328.00,544.30 316.00,546.40 316.00,542.20" fill="#000"/>
<polygon points="356.60,544.30 368.60,542.20 368.60,546.40" fill="#000"/>
<line x1="330.80" y1="536.00" x2="345.50" y2="553.00" stroke="#111" stroke-width="1.3"/>
<text transform="translate(249.98,539.00) scale(1.3,1)" font-size="14.5" fill="#858585">[</text>
<text transform="translate(261.64,524.40) scale(1.0750,1)" font-size="17.0" fill="#000" stroke="#000" stroke-width="0.22">7</text>
<text transform="translate(261.91,540.60) scale(1.0750,1)" font-size="17.0" fill="#000" stroke="#000" stroke-width="0.22">0.28&quot;</text>
<text transform="translate(310.72,539.00) scale(1.3,1)" font-size="14.5" fill="#858585">]</text>
<text transform="translate(371.28,539.00) scale(1.3,1)" font-size="14.5" fill="#858585">[</text>
<text transform="translate(382.48,524.40) scale(1.0750,1)" font-size="17.0" fill="#000" stroke="#000" stroke-width="0.22">12</text>
<text transform="translate(383.21,540.60) scale(1.0750,1)" font-size="17.0" fill="#000" stroke="#000" stroke-width="0.22">0.47&quot;</text>
<text transform="translate(432.02,539.00) scale(1.3,1)" font-size="14.5" fill="#858585">]</text>
<line x1="32.50" y1="350.90" x2="32.50" y2="438.40" stroke="#3a3a3a" stroke-width="1.0"/>
<polygon points="32.20,350.90 34.30,362.90 30.10,362.90" fill="#000"/>
<polygon points="32.20,438.40 30.10,426.40 34.30,426.40" fill="#000"/>
<g transform="translate(26.80,425.00) rotate(-90) scale(1,1.075)">
<text transform="translate(-1.32,-1.60) scale(1.3,1)" font-size="14.5" fill="#858585">[</text>
<text transform="translate(10.52,-13.58) scale(1.0750,1)" font-size="17.0" fill="#000" stroke="#000" stroke-width="0.22">58</text>
<text transform="translate(10.34,0.00) scale(1.0750,1)" font-size="17.0" fill="#000" stroke="#000" stroke-width="0.22">2.28&quot;</text>
<text transform="translate(59.14,-1.60) scale(1.3,1)" font-size="14.5" fill="#858585">]</text>
</g>
<line x1="79.50" y1="394.30" x2="79.50" y2="519.00" stroke="#3a3a3a" stroke-width="1.0"/>
<polygon points="79.10,394.30 81.20,406.30 77.00,406.30" fill="#000"/>
<polygon points="79.10,438.40 77.00,426.40 81.20,426.40" fill="#000"/>
<g transform="translate(76.20,512.80) rotate(-90) scale(1,1.075)">
<text transform="translate(-1.32,-1.60) scale(1.3,1)" font-size="14.5" fill="#858585">[</text>
<text transform="translate(10.34,-14.88) scale(1.0750,1)" font-size="17.0" fill="#000" stroke="#000" stroke-width="0.22">29</text>
<text transform="translate(9.88,0.00) scale(1.0750,1)" font-size="17.0" fill="#000" stroke="#000" stroke-width="0.22">1.14&quot;</text>
<text transform="translate(58.69,-1.60) scale(1.3,1)" font-size="14.5" fill="#858585">]</text>
</g>
<line x1="8.90" y1="551.50" x2="97.90" y2="551.50" stroke="#3a3a3a" stroke-width="1.0"/>
<line x1="97.90" y1="551.70" x2="144.20" y2="396.60" stroke="#3a3a3a" stroke-width="1.0"/>
<polygon points="144.40,396.00 143.17,408.16 138.76,406.84" fill="#000"/>
<text transform="translate(13.14,547.50) scale(1.1018,1)" font-size="17.0" fill="#000" stroke="#000" stroke-width="0.22">3x G3/8&quot;</text>
</svg>
</body>
</html>
